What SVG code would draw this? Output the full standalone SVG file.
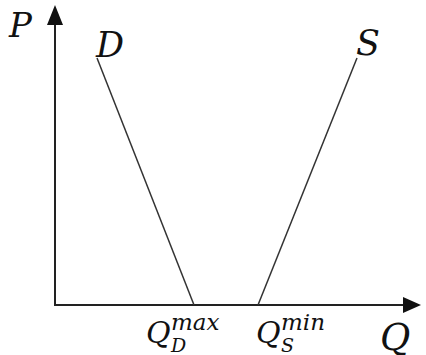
<svg xmlns="http://www.w3.org/2000/svg" width="426" height="355" viewBox="0 0 426 355">
<style>
.t{font-family:"DejaVu Serif","Liberation Serif",serif;font-style:italic;fill:#111}
.ax{stroke:#222;stroke-width:2;fill:none}
.ln{stroke:#333;stroke-width:1.5;fill:none}
</style>
<rect width="426" height="355" fill="#fff"/>
<g id="connectors">
<polyline class="ax" points="55,22 55,305 404,305"/>
<path d="M55,5 L47,25 L63,25 Z" fill="#111"/>
<path d="M421,305 L403,297 L403,313 Z" fill="#111"/>
<line id="demand" class="ln" x1="97" y1="58" x2="194" y2="305"/>
<line id="supply" class="ln" x1="357" y1="58" x2="258" y2="305"/>
</g>
<g id="labelP"><text class="t" x="9" y="37" font-size="34">P</text></g>
<g id="labelD"><text class="t" x="96" y="57" font-size="35">D</text></g>
<g id="labelS"><text class="t" x="356" y="55" font-size="35">S</text></g>
<g id="labelQDmax"><text class="t" x="146" y="343" font-size="30">Q</text><text class="t" x="171" y="330" font-size="23">max</text><text class="t" x="171" y="352" font-size="19">D</text></g>
<g id="labelQSmin"><text class="t" x="256" y="343" font-size="30">Q</text><text class="t" x="281" y="330" font-size="23">min</text><text class="t" x="281" y="352" font-size="19">S</text></g>
<g id="labelQ"><text class="t" x="380" y="350" font-size="37">Q</text></g>
</svg>
